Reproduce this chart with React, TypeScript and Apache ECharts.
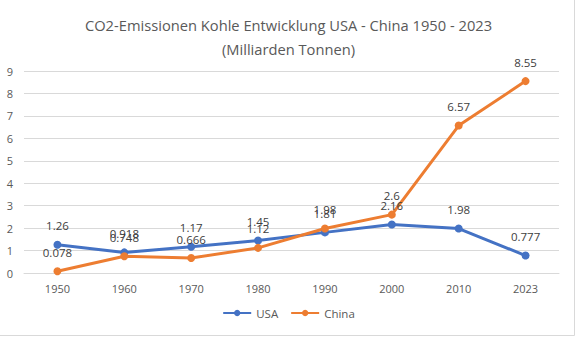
import React, { useEffect, useRef } from "react";
import * as echarts from "echarts";

const categories = ["1950", "1960", "1970", "1980", "1990", "2000", "2010", "2023"];
const usaValues = [1.26, 0.918, 1.17, 1.45, 1.81, 2.16, 1.98, 0.777];
const chinaValues = [0.078, 0.748, 0.666, 1.12, 1.98, 2.6, 6.57, 8.55];
const titleLines = ["CO2-Emissionen Kohle Entwicklung USA - China 1950 - 2023", "(Milliarden Tonnen)"];

const FONT = "'Open Sans', 'Noto Sans', sans-serif";

export default function App() {
  const ref = useRef<HTMLDivElement>(null);
  useEffect(() => {
    document.body.style.margin = "0";
    const chart = echarts.init(ref.current!, null, { renderer: "svg" });
    const labelStyle = {
      show: true,
      position: "top" as const,
      distance: 9,
      color: "#404040",
      fontSize: 11.5,
      fontFamily: FONT,
    };
    chart.setOption({
      animation: false,
      backgroundColor: "#ffffff",
      title: {
        text: titleLines.join("\n"),
        left: "center",
        top: 8,
        textStyle: {
          color: "#595959",
          fontSize: 14.7,
          fontWeight: "normal",
          fontFamily: FONT,
          lineHeight: 24,
        },
      },
      graphic: [
        {
          type: "rect",
          shape: { x: -5, y: -5, width: 579.5, height: 340.5 },
          style: { fill: "none", stroke: "#d9d9d9", lineWidth: 1 },
          silent: true,
        },
      ],
      legend: {
        bottom: 15,
        left: "center",
        itemWidth: 28,
        itemHeight: 8,
        itemGap: 12,
        textStyle: { color: "#595959", fontSize: 11.5, fontFamily: FONT },
        data: ["USA", "China"],
      },
      grid: { left: 24, right: 18, top: 71, bottom: 66, containLabel: false },
      xAxis: {
        type: "category",
        data: categories,
        boundaryGap: true,
        axisLine: { show: true, lineStyle: { color: "#d9d9d9" } },
        axisTick: { show: false },
        axisLabel: { color: "#595959", fontSize: 11, fontFamily: FONT, margin: 10 },
      },
      yAxis: {
        type: "value",
        min: 0,
        max: 9,
        interval: 1,
        axisLine: { show: false },
        axisTick: { show: false },
        splitLine: { lineStyle: { color: "#d9d9d9" } },
        axisLabel: { color: "#595959", fontSize: 11, fontFamily: FONT, margin: 11 },
      },
      series: [
        {
          name: "USA",
          type: "line",
          data: usaValues,
          color: "#4472C4",
          symbol: "circle",
          symbolSize: 8,
          lineStyle: { width: 3, color: "#4472C4" },
          itemStyle: { color: "#4472C4" },
          label: labelStyle,
        },
        {
          name: "China",
          type: "line",
          data: chinaValues,
          color: "#ED7D31",
          symbol: "circle",
          symbolSize: 8,
          lineStyle: { width: 3, color: "#ED7D31" },
          itemStyle: { color: "#ED7D31" },
          label: labelStyle,
        },
      ],
    });
    return () => chart.dispose();
  }, []);
  return <div ref={ref} style={{ width: 577, height: 339 }} />;
}
